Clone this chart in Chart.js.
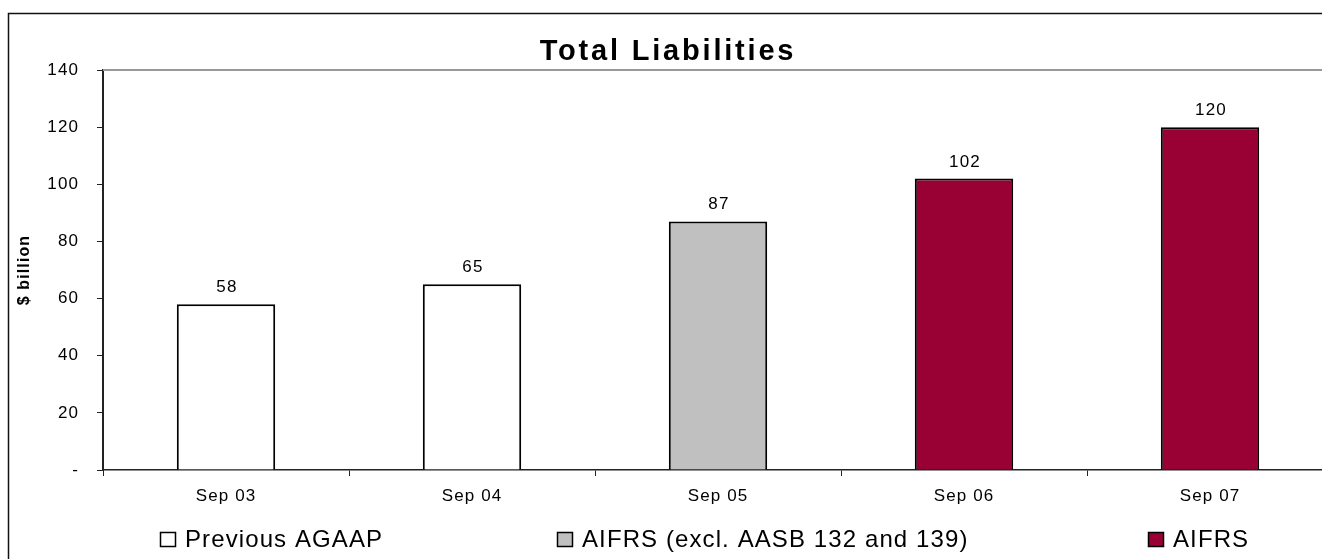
<!DOCTYPE html>
<html>
<head>
<meta charset="utf-8">
<title>Total Liabilities</title>
<script src="https://cdn.jsdelivr.net/npm/chart.js@4/dist/chart.umd.min.js"></script>
<style>
  html, body { margin: 0; padding: 0; background: #fff; overflow: hidden; }
  canvas { display: block; }
</style>
</head>
<body>
<canvas id="chart" width="1336" height="559"></canvas>
<script>
// reporting periods and total liabilities ($ billion)
const periods = ["Sep 03", "Sep 04", "Sep 05", "Sep 06", "Sep 07"];
const liabilities = [58, 65, 87, 102, 120];
// accounting basis of each period (index into bases)
const periodBasis = [0, 0, 1, 2, 2];
const bases = ["Previous AGAAP", "AIFRS (excl. AASB 132 and 139)", "AIFRS"];
const basisColors = ["#ffffff", "#c0c0c0", "#990033"];
const yTicks = [0, 20, 40, 60, 80, 100, 120, 140];

const FONT = "Arial, 'Liberation Sans', sans-serif";

function spacedText(ctx, text, x, y, font, spacing, align) {
    ctx.save();
    ctx.font = font;
    ctx.letterSpacing = spacing;
    ctx.fillStyle = "#000";
    ctx.textBaseline = "alphabetic";
    let w = ctx.measureText(text).width;
    let left = align === "center" ? x - w / 2 : x;
    ctx.textAlign = "left";
    ctx.fillText(text, left, y);
    ctx.restore();
}

const decorations = {
    id: "decorations",
    beforeDraw(chart) {
        let ctx = chart.ctx;
        ctx.letterSpacing = "1.1px";
        // outer frame
        ctx.save();
        ctx.strokeStyle = "#111";
        ctx.lineWidth = 1.5;
        ctx.beginPath();
        ctx.moveTo(8.5, chart.height + 5);
        ctx.lineTo(8.5, 13.5);
        ctx.lineTo(chart.width + 5, 13.5);
        ctx.stroke();
        ctx.restore();
    },
    beforeDatasetsDraw(chart) {
        let ctx = chart.ctx;
        let area = chart.chartArea;
        // plot area top edge
        ctx.save();
        ctx.strokeStyle = "#999";
        ctx.lineWidth = 2;
        ctx.beginPath();
        ctx.moveTo(area.left, area.top);
        ctx.lineTo(area.right, area.top);
        ctx.stroke();
        ctx.restore();
    },
    afterDraw(chart) {
        let ctx = chart.ctx;
        // title
        spacedText(ctx, "Total Liabilities", 668, 60, "bold 29px " + FONT, "2.8px", "center");

        // value labels above bars
        let meta = chart.getDatasetMeta(0);
        meta.data.forEach((bar, i) => {
            spacedText(ctx, String(liabilities[i]), bar.x + 1, bar.y - 12, "17px " + FONT, "1.2px", "center");
        });

        // legend
        let legendX = [160, 557, 1148];
        bases.forEach((name, i) => {
            let x = legendX[i];
            ctx.save();
            ctx.fillStyle = basisColors[i];
            ctx.fillRect(x, 532, 16, 15);
            ctx.strokeStyle = "#000";
            ctx.lineWidth = 1.5;
            ctx.strokeRect(x + 0.5, 532.5, 15, 14);
            ctx.restore();
            spacedText(ctx, name, x + 25, 547, "24px " + FONT, "1.1px", "left");
        });
    }
};

new Chart(document.getElementById("chart").getContext("2d"), {
    type: "bar",
    data: {
        labels: periods,
        datasets: [{
            label: "Total liabilities",
            data: liabilities,
            backgroundColor: periodBasis.map(b => basisColors[b]),
            borderColor: "#000",
            borderWidth: 2,
            borderSkipped: "bottom",
            categoryPercentage: 1,
            barPercentage: 0.4
        }]
    },
    options: {
        responsive: false,
        animation: false,
        devicePixelRatio: 1,
        layout: { padding: { top: 70, left: 0, right: 3, bottom: 0 } },
        plugins: {
            legend: { display: false },
            title: { display: false },
            tooltip: { enabled: false }
        },
        scales: {
            x: {
                afterFit(scale) { scale.height = 89; },
                grid: {
                    offset: true,
                    drawOnChartArea: false,
                    drawTicks: true,
                    tickLength: 6,
                    color: "#222",
                    lineWidth: 1
                },
                border: { display: true, color: "#222", width: 1.5 },
                ticks: {
                    color: "#000",
                    padding: 10,
                    maxRotation: 0,
                    font: { family: FONT, size: 17 }
                }
            },
            y: {
                min: 0,
                max: 140,
                afterFit(scale) { scale.width = 103; },
                afterBuildTicks(scale) { scale.ticks = yTicks.map(v => ({ value: v })); },
                grid: {
                    drawOnChartArea: false,
                    drawTicks: true,
                    tickLength: 6,
                    color: "#222",
                    lineWidth: 1
                },
                border: { display: true, color: "#222", width: 2 },
                ticks: {
                    color: "#000",
                    padding: 18,
                    font: { family: FONT, size: 17 },
                    callback: v => v === 0 ? "-" : String(v)
                },
                title: {
                    display: true,
                    text: "$ billion",
                    color: "#000",
                    padding: { top: 15, bottom: 0 },
                    font: { family: FONT, size: 16, weight: "bold" }
                }
            }
        }
    },
    plugins: [decorations]
});
</script>
</body>
</html>
